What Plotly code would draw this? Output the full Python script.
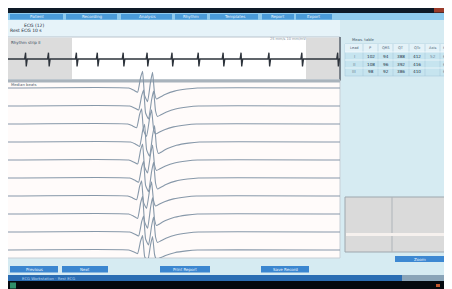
import plotly.graph_objects as go

# page body has an 8 px margin, so the figure sits at (8, 8) in the window
OFF = 8
W, H = 452 - OFF, 289 - OFF

# ---------------- data ----------------
# averaged-beat template (time in ms, amplitude in mV)
template_t = [0, 242, 252, 260, 266, 270, 274, 280, 286, 290, 294, 298, 304, 316, 334, 358, 380, 666]
template_mv = [0, 0, -0.2, -0.4, 1.0, 1.6, -0.7, -1.3, 0.6, 1.5, -0.5, -1.05, -0.9, -0.6, -0.3, -0.1, 0, 0]
channel_names = ["I", "II", "III", "aVR", "aVL", "aVF", "V1", "V2", "V3", "V4"]
channel_gain = [1.05, 1.0, 0.95, 1.1, 1.0, 1.05, 0.95, 1.1, 1.0, 0.9]
channel_shift_ms = [0, 2, -2, 4, 0, 2, -2, 0, 2, 0]

# rhythm strip beat times (s)
beat_times = [0.54, 1.23, 2.07, 2.70, 3.48, 4.20, 4.95, 5.74, 6.49, 7.03, 7.87, 8.86, 9.94]

tab_labels = ["Patient", "Recording", "Analysis", "Rhythm", "Templates", "Report", "Export"]
table_header = ["Lead", "P", "QRS", "QT", "QTc", "Axis", "HR"]
table_rows = [
    ["I", "102", "94", "388", "412", "52", "68"],
    ["II", "108", "96", "392", "416", "", "68"],
    ["III", "98", "92", "386", "410", "", "68"],
]
bottom_buttons = ["Previous", "Next", "Print Report", "Save Record"]

# ---------------- helpers (coordinates in window pixels) ----------------
def px(x):
    return (x - OFF) / W

def py(y):
    return 1 - (y - OFF) / H

def dom(a, b):
    return [max(0.0, min(1.0, a)), max(0.0, min(1.0, b))]

shapes = []
annotations = []

def rect(x0, y0, x1, y1, fill, line=None, lw=0, layer="below"):
    shapes.append(dict(type="rect", xref="paper", yref="paper",
                       x0=px(x0), x1=px(x1), y0=py(y1), y1=py(y0),
                       fillcolor=fill, line=dict(color=line or fill, width=lw),
                       layer=layer))

def hline(x0, x1, y, color, lw=1, layer="below"):
    shapes.append(dict(type="line", xref="paper", yref="paper",
                       x0=px(x0), x1=px(x1), y0=py(y), y1=py(y),
                       line=dict(color=color, width=lw), layer=layer))

def vline(x, y0, y1, color, lw=1, layer="below"):
    shapes.append(dict(type="line", xref="paper", yref="paper",
                       x0=px(x), x1=px(x), y0=py(y0), y1=py(y1),
                       line=dict(color=color, width=lw), layer=layer))

def label(x, y, text, color="#23364a", size=5, anchor="left"):
    annotations.append(dict(x=px(x), y=py(y), xref="paper", yref="paper",
                            text=text, showarrow=False, xanchor=anchor, yanchor="middle",
                            font=dict(size=size, color=color, family="DejaVu Sans")))

# ---------------- chrome ----------------
rect(7, 20, 452, 276, "#d6ebf2")              # window body
rect(7, 20, 340, 37, "#e6f3f9")               # header area left
rect(7, 7, 452, 13, "#0e1a27")                # title bar
rect(434, 7, 449, 12.5, "#9a3b2a")            # close button
rect(7, 13, 452, 20, "#8fcbee")               # tab bar
tab_x = [10, 66, 121, 175, 210, 262, 296]
tab_w = [53, 51, 51, 32, 48, 32, 36]
for x0, w, t in zip(tab_x, tab_w, tab_labels):
    rect(x0, 14, x0 + w, 19.5, "#4a9bd9")
    label(x0 + w / 2, 16.8, t, "#eaf6ff", 4, "center")
label(22, 25, "ECG (12)", "#1c2c3c", 4.5)
label(8, 31, "Rest ECG 10 s", "#1c2c3c", 4.5)

# rhythm strip panel
rect(7, 37, 340, 80, "#ffffff", "#b9c3cc", 1)
rect(7, 38, 72, 79, "#dcdcdc")
rect(306, 38, 340, 79, "#dcdcdc")
vline(340, 37, 81, "#5c6670", 1.5)
label(9, 42, "Rhythm strip II", "#33475a", 4)
label(268, 39, "25 mm/s 10 mm/mV", "#7d8c99", 3.5)

# averaged beats panel
rect(7, 80, 340, 258, "#fffbfa", "#c7cfd6", 1)
rect(7, 79.5, 340, 82.5, "#a9b3bc")
label(9, 84.5, "Median beats", "#4a5a68", 3.8)

# right panel table
label(350, 40, "Meas. table", "#405466", 3.8)
col_edges = [345, 363, 378, 393, 409, 425, 440, 452]
rect(345, 44, 452, 76, "#c6e4ef", "#a8cadb", 0.6)
rect(345, 44, 452, 52, "#e4f2f8")
for xe in col_edges[1:-1]:
    vline(xe, 44, 76, "#a8cadb", 0.6)
for yl in [52, 60, 68]:
    hline(345, 452, yl, "#f2f9fc", 0.8)
for i, h in enumerate(table_header):
    label((col_edges[i] + col_edges[i + 1]) / 2, 48, h, "#4c6477", 3.6, "center")
for r, row in enumerate(table_rows):
    for i, v in enumerate(row):
        label((col_edges[i] + col_edges[i + 1]) / 2, 56 + 8 * r, v,
              "#1f3447" if 0 < i < 5 else "#6f8798", 4.2, "center")

# right bottom thumbnail box
rect(345, 197, 452, 252, "#dadada", "#9ea7ae", 1)
vline(392, 197, 252, "#aeb4b9", 1)
rect(346, 233, 451, 236, "#f6f1ee")
rect(395, 256, 445, 262, "#3d88d2")
label(420, 259, "Zoom", "#eef7ff", 4, "center")

# bottom buttons
btn_x = [(10, 58), (62, 108), (160, 210), (261, 309)]
for (x0, x1), t in zip(btn_x, bottom_buttons):
    rect(x0, 266, x1, 272.5, "#3b86d0")
    label((x0 + x1) / 2, 269.2, t, "#eef7ff", 4, "center")

# taskbar
rect(7, 275, 402, 281, "#2b6db3")
rect(402, 275, 452, 281, "#8aa4b8")
rect(7, 281, 452, 289, "#05090e")
rect(10, 282.5, 16, 288.5, "#2f8f6a")
rect(436, 284, 440, 287, "#c0562e")
label(20, 278, "ECG Workstation - Rest ECG", "#b7d6f0", 3.8)

# ---------------- traces ----------------
fig = go.Figure()

# rhythm strip (x2/y2)
sx, sy = [0.0], [0.0]
for b in beat_times:
    sx += [b - 0.04, b - 0.01, b + 0.01, b + 0.04]
    sy += [0.0, 0.3, -0.35, 0.0]
sx.append(10.0)
sy.append(0.0)
fig.add_trace(go.Scatter(x=sx, y=sy, mode="lines", xaxis="x2", yaxis="y2",
                         line=dict(color="#2d333b", width=1.3), hoverinfo="skip",
                         showlegend=False))

# averaged beats (x/y); 10 px per mV, channel baselines 1.8 mV apart
spacing = 1.8
for i, name in enumerate(channel_names):
    tx = [t + (channel_shift_ms[i] if 0 < t < 666 else 0) for t in template_t]
    ty = [-i * spacing + channel_gain[i] * v for v in template_mv]
    fig.add_trace(go.Scatter(x=tx, y=ty, mode="lines", name=name,
                             line=dict(color="#8798a9", width=1.1, shape="spline", smoothing=0.4),
                             hoverinfo="skip", showlegend=False))

axis_off = dict(showgrid=False, zeroline=False, showticklabels=False, ticks="",
                showline=False, fixedrange=True)

fig.update_layout(
    width=W, height=H,
    margin=dict(l=0, r=0, t=0, b=0),
    paper_bgcolor="#ffffff",
    plot_bgcolor="rgba(0,0,0,0)",
    showlegend=False,
    shapes=shapes,
    annotations=annotations,
    xaxis=dict(domain=dom(px(7), px(340)), range=[0, 666], **axis_off),
    yaxis=dict(domain=dom(py(258), py(69)), range=[-17.0, 1.9], **axis_off),
    xaxis2=dict(domain=dom(px(7), px(340)), range=[0, 10], anchor="y2", **axis_off),
    yaxis2=dict(domain=dom(py(80), py(38)), range=[-1, 1], anchor="x2", **axis_off),
)

fig.write_html("out.html")
